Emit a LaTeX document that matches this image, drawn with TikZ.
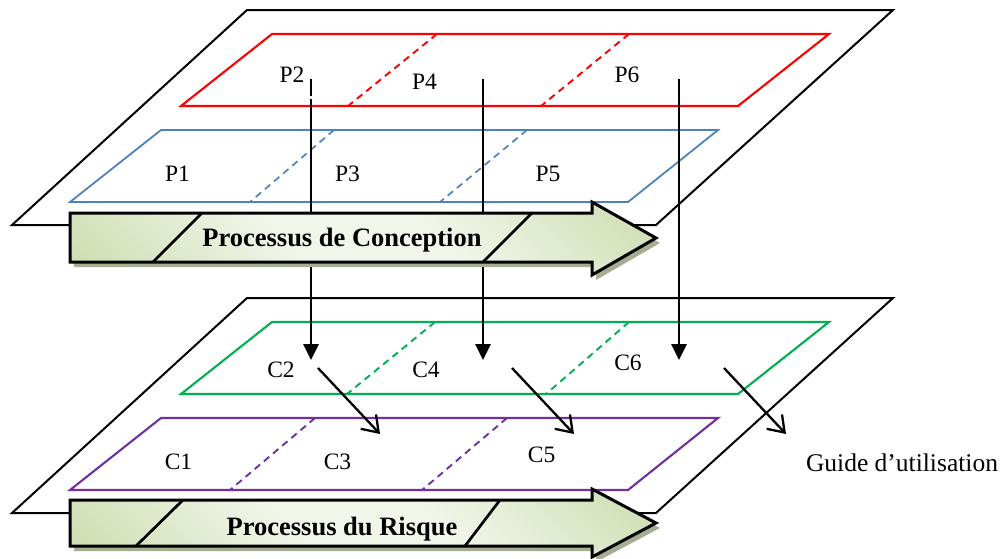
\documentclass[tikz,border=0pt]{standalone}
\usepackage{fontspec}
\setmainfont{Liberation Serif}
\usetikzlibrary{arrows.meta}

\definecolor{layerred}{HTML}{FF0000}
\definecolor{layerblue}{HTML}{4F81BD}
\definecolor{layergreen}{HTML}{00B050}
\definecolor{layerpurple}{HTML}{7030A0}
\definecolor{bandlight}{HTML}{F1F6EA}
\definecolor{banddark}{HTML}{C8DAA8}
\definecolor{bandshadow}{HTML}{A5AE90}

% light diagonal band between soft olive corners
\pgfdeclarehorizontalshading{bandshade}{100bp}{%
  color(0bp)=(banddark); color(12bp)=(banddark);
  color(42bp)=(bandlight); color(58bp)=(bandlight);
  color(88bp)=(banddark); color(100bp)=(banddark)}

\tikzset{
  plane/.style={draw=black, line width=2pt, line join=miter},
  layer/.style={line width=2.1pt, line join=miter},
  divider/.style={line width=1.9pt, dash pattern=on 7pt off 5pt},
  label/.style={font=\fontsize{23.5}{26}\selectfont, anchor=base, inner sep=0pt},
  title/.style={font=\fontsize{26.5}{30}\bfseries\selectfont, anchor=base, inner sep=0pt},
  band/.style={draw=black, line width=3pt, line join=miter, shading=bandshade, shading angle=45},
  bandshadow/.style={fill=bandshadow, draw=none},
  bandcut/.style={draw=black, line width=2.7pt},
  flow/.style={draw=black, line width=2.7pt, -{Triangle[length=16pt,width=15pt]}},
  handoff/.style={draw=black, line width=2.3pt, -{Straight Barb[length=15pt,width=21pt,line width=2.3pt]}}
}

\begin{document}
\begin{tikzpicture}[x=1pt,y=-1pt]
\useasboundingbox (0,0) rectangle (1004,558);

% ---------- upper plane: design process ----------
\draw[plane] (12,225) -- (247,10) -- (893,10) -- (656,225) -- cycle;
\draw[layer, layerred] (181,106) -- (272,34) -- (829,34) -- (738,106) -- cycle;
\draw[divider, layerred] (437,34) -- (348,106);
\draw[divider, layerred] (629,34) -- (541,106);
\draw[layer, layerblue, line width=1.8pt] (70,202) -- (161,130) -- (718,130) -- (628,202) -- cycle;
\draw[divider, layerblue, line width=1.7pt] (334,130) -- (250,202);
\draw[divider, layerblue, line width=1.7pt] (527,130) -- (440,202);

% ---------- lower plane: risk process ----------
\draw[plane] (12,513) -- (247,298) -- (893,298) -- (656,513) -- cycle;
\draw[layer, layergreen] (181,394) -- (272,322) -- (829,322) -- (738,394) -- cycle;
\draw[divider, layergreen] (435,322) -- (347,394);
\draw[divider, layergreen] (629,322) -- (546,394);
\draw[layer, layerpurple] (70,490) -- (161,418) -- (718,418) -- (628,490) -- cycle;
\draw[divider, layerpurple] (315,418) -- (230,490);
\draw[divider, layerpurple] (507,418) -- (422,490);

% ---------- links from design steps down to risk steps ----------
\coordinate (s2) at (311,79);
\coordinate (s2b) at (311,96);
\coordinate (s2c) at (311,99);
\coordinate (t2) at (311,360);
\coordinate (s4) at (483,79);
\coordinate (t4) at (483,360);
\coordinate (s6) at (679,79);
\coordinate (t6) at (679,360);
\draw[line width=2.7pt] (s2) -- (s2b);
\draw[flow] (s2c) -- (t2);
\draw[flow] (s4) -- (t4);
\draw[flow] (s6) -- (t6);

% ---------- process bands ----------
\fill[bandshadow, shift={(4,5)}] (70,213) -- (592,213) -- (592,202) -- (656,238) -- (592,275) -- (592,262) -- (70,262) -- cycle;
\path[band] (70,213) -- (592,213) -- (592,202) -- (656,238) -- (592,275) -- (592,262) -- (70,262) -- cycle;
\draw[bandcut] (202,213) -- (153,262);
\draw[bandcut] (532,213) -- (483,262);
\node[title] (design) at (342,246) {Processus de Conception};

\fill[bandshadow, shift={(4,5)}] (70,500) -- (592,500) -- (592,489) -- (656,523) -- (592,557) -- (592,546) -- (70,546) -- cycle;
\path[band] (70,500) -- (592,500) -- (592,489) -- (656,523) -- (592,557) -- (592,546) -- (70,546) -- cycle;
\draw[bandcut] (183,500) -- (136,546);
\draw[bandcut] (500,500) -- (465,546);
\node[title] (risk) at (342,535) {Processus du Risque};

% ---------- step labels ----------
\node[label] (P2) at (292,82) {P2};
\node[label] (P4) at (424.5,89) {P4};
\node[label] (P6) at (627,82) {P6};
\node[label] (P1) at (177.5,181) {P1};
\node[label] (P3) at (347.5,181) {P3};
\node[label] (P5) at (548,181) {P5};
\node[label] (C2) at (281,377) {C2};
\node[label] (C4) at (426,377) {C4};
\node[label] (C6) at (628,370) {C6};
\node[label] (C1) at (178.5,469) {C1};
\node[label] (C3) at (337.5,469) {C3};
\node[label] (C5) at (541.7,462) {C5};
\node[label, font=\fontsize{25.5}{28}\selectfont] (guide) at (902,471) {Guide d’utilisation};

% ---------- hand-offs between risk steps ----------
\coordinate (h1s) at (318,368);
\coordinate (h1e) at (380,434);
\coordinate (h2s) at (512,368);
\coordinate (h2e) at (574,434);
\coordinate (h3s) at (724,368);
\coordinate (h3e) at (786,434);
\draw[handoff] (h1s) -- (h1e);
\draw[handoff] (h2s) -- (h2e);
\draw[handoff] (h3s) -- (h3e);
\end{tikzpicture}
\end{document}
